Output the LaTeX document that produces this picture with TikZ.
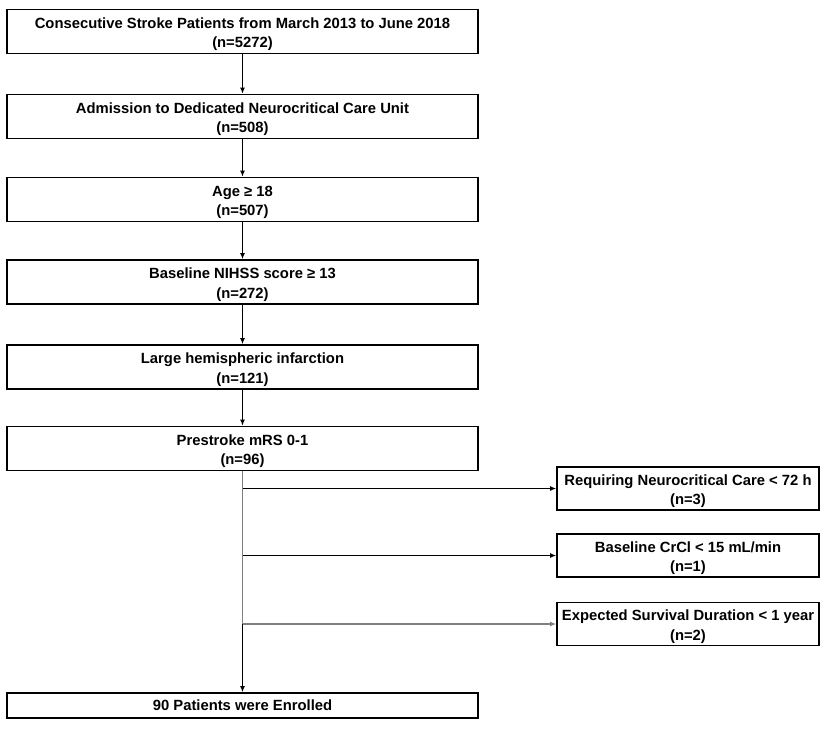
\documentclass[tikz,border=0pt]{standalone}
\usepackage{fontspec}
\setmainfont{Liberation Sans}
\usetikzlibrary{arrows.meta, positioning}
\tikzset{
    result/.style={draw=black, line width=1.6pt, minimum width=471pt, minimum height=25pt, align=center, inner sep=0pt, font=\bfseries\fontsize{14.8}{19.5}\selectfont},
    stage/.style={result, minimum height=44pt, text height=32pt, text depth=0pt},
    exclusion/.style={stage, minimum width=262pt, minimum height=43pt},
    flow/.style={-{Latex[length=6pt,width=5pt]}, line width=1.4pt, draw=black},
    faint/.style={line width=1.4pt, draw=black!50}
}

\begin{document}
\begin{tikzpicture}[x=1pt, y=-1pt]
    \useasboundingbox (0,0) rectangle (829,728);
    % main inclusion chain
    \node[stage] (stroke) at (242.5,31.5) {Consecutive Stroke Patients from March 2013 to June 2018\\(n=5272)};
    \node[stage] (nccu) at (242.5,116.5) {Admission to Dedicated Neurocritical Care Unit\\(n=508)};
    \node[stage] (age) at (242.5,199.5) {Age ≥ 18\\(n=507)};
    \node[stage] (nihss) at (242.5,282) {Baseline NIHSS score ≥ 13\\(n=272)};
    \node[stage] (lhi) at (242.5,367) {Large hemispheric infarction\\(n=121)};
    \node[stage] (mrs) at (242.5,448.5) {Prestroke mRS 0-1\\(n=96)};
    \node[result] (enrolled) at (242.5,705.5) {90 Patients were Enrolled};
    % exclusions
    \node[exclusion] (care) at (688,488.5) {Requiring Neurocritical Care < 72 h\\(n=3)};
    \node[exclusion] (crcl) at (688,555.5) {Baseline CrCl < 15 mL/min\\(n=1)};
    \node[exclusion] (survival) at (688,624) {Expected Survival Duration < 1 year\\(n=2)};
    \coordinate (cutA) at (mrs.south |- care.west);
    \coordinate (cutB) at (mrs.south |- crcl.west);
    \coordinate (cutC) at (mrs.south |- survival.west);

    \draw[flow] (stroke) -- (nccu);
    \draw[flow] (nccu) -- (age);
    \draw[flow] (age) -- (nihss);
    \draw[flow] (nihss) -- (lhi);
    \draw[flow] (lhi) -- (mrs);
    \draw[faint] (mrs.south) -- (cutC);
    \draw[flow] (cutC) -- (enrolled.north);
    \draw[flow] (cutA) -- (care.west);
    \draw[flow] (cutB) -- (crcl.west);
    \draw[flow, draw=black!50] (cutC) -- (survival.west);
\end{tikzpicture}
\end{document}
